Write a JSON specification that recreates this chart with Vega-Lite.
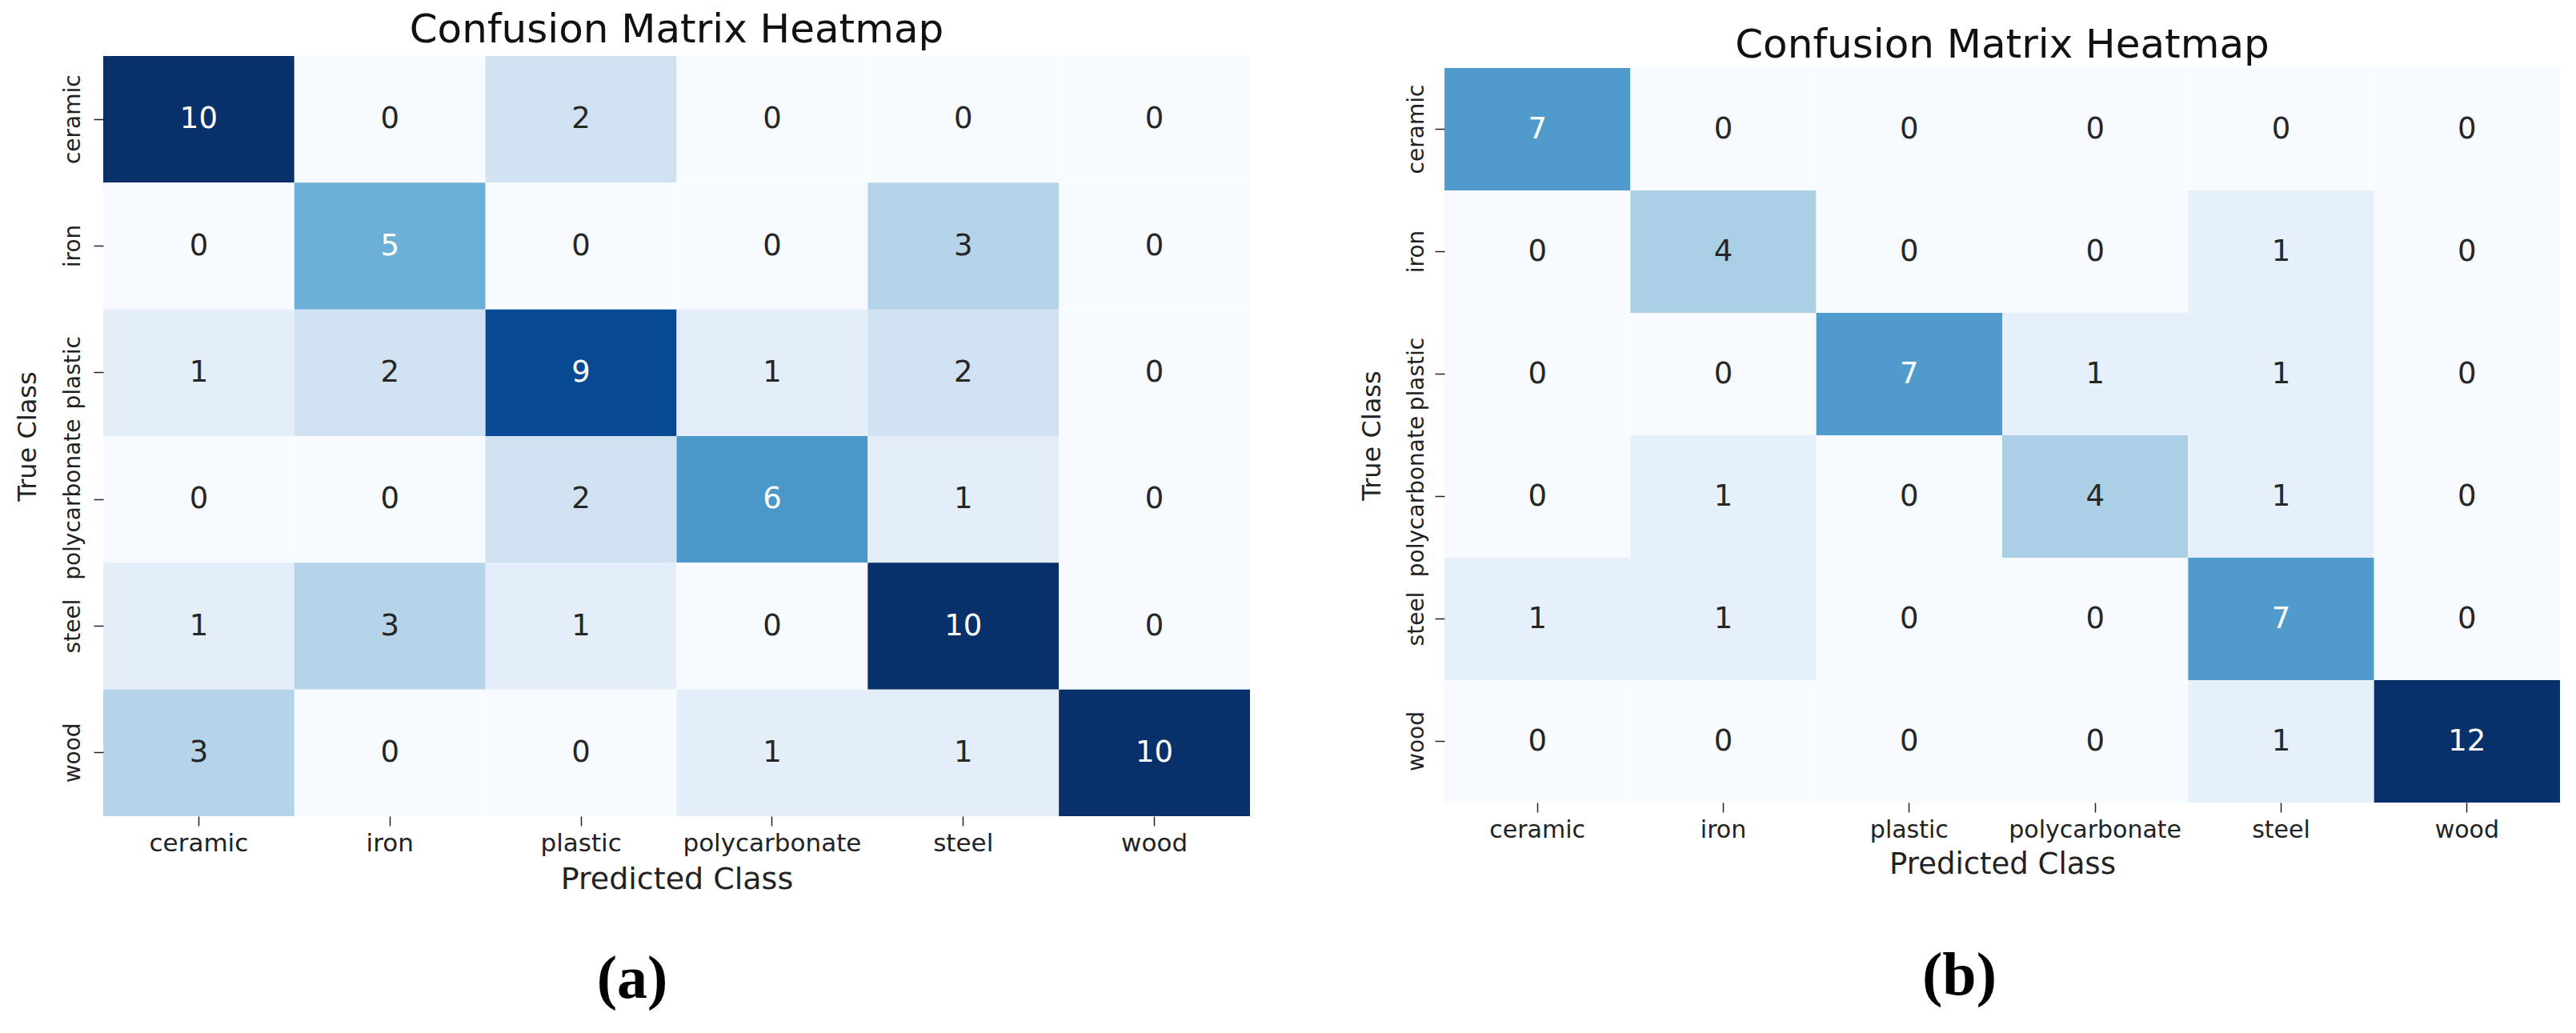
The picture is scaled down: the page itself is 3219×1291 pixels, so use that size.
{
  "$schema": "https://vega.github.io/schema/vega-lite/v6.json",
  "background": "white",
  "padding": {"left": 18, "top": 13, "right": 10, "bottom": 10},
  "config": {
    "font": "DejaVu Sans",
    "view": {"stroke": null},
    "axis": {"grid": false, "domain": false, "tickColor": "#222", "tickSize": 12, "tickWidth": 1.5, "labelColor": "#222", "titleColor": "#222", "labelFont": "DejaVu Sans", "titleFont": "DejaVu Sans", "titleFontWeight": "normal", "labelLimit": 0, "labelOverlap": false},
    "title": {"font": "DejaVu Sans", "fontWeight": "normal", "color": "#111"}
  },
  "datasets": {
    "a": [
      {"t": "ceramic", "p": "ceramic", "v": 10}, {"t": "ceramic", "p": "iron", "v": 0}, {"t": "ceramic", "p": "plastic", "v": 2}, {"t": "ceramic", "p": "polycarbonate", "v": 0}, {"t": "ceramic", "p": "steel", "v": 0}, {"t": "ceramic", "p": "wood", "v": 0},
      {"t": "iron", "p": "ceramic", "v": 0}, {"t": "iron", "p": "iron", "v": 5}, {"t": "iron", "p": "plastic", "v": 0}, {"t": "iron", "p": "polycarbonate", "v": 0}, {"t": "iron", "p": "steel", "v": 3}, {"t": "iron", "p": "wood", "v": 0},
      {"t": "plastic", "p": "ceramic", "v": 1}, {"t": "plastic", "p": "iron", "v": 2}, {"t": "plastic", "p": "plastic", "v": 9}, {"t": "plastic", "p": "polycarbonate", "v": 1}, {"t": "plastic", "p": "steel", "v": 2}, {"t": "plastic", "p": "wood", "v": 0},
      {"t": "polycarbonate", "p": "ceramic", "v": 0}, {"t": "polycarbonate", "p": "iron", "v": 0}, {"t": "polycarbonate", "p": "plastic", "v": 2}, {"t": "polycarbonate", "p": "polycarbonate", "v": 6}, {"t": "polycarbonate", "p": "steel", "v": 1}, {"t": "polycarbonate", "p": "wood", "v": 0},
      {"t": "steel", "p": "ceramic", "v": 1}, {"t": "steel", "p": "iron", "v": 3}, {"t": "steel", "p": "plastic", "v": 1}, {"t": "steel", "p": "polycarbonate", "v": 0}, {"t": "steel", "p": "steel", "v": 10}, {"t": "steel", "p": "wood", "v": 0},
      {"t": "wood", "p": "ceramic", "v": 3}, {"t": "wood", "p": "iron", "v": 0}, {"t": "wood", "p": "plastic", "v": 0}, {"t": "wood", "p": "polycarbonate", "v": 1}, {"t": "wood", "p": "steel", "v": 1}, {"t": "wood", "p": "wood", "v": 10}
    ],
    "b": [
      {"t": "ceramic", "p": "ceramic", "v": 7}, {"t": "ceramic", "p": "iron", "v": 0}, {"t": "ceramic", "p": "plastic", "v": 0}, {"t": "ceramic", "p": "polycarbonate", "v": 0}, {"t": "ceramic", "p": "steel", "v": 0}, {"t": "ceramic", "p": "wood", "v": 0},
      {"t": "iron", "p": "ceramic", "v": 0}, {"t": "iron", "p": "iron", "v": 4}, {"t": "iron", "p": "plastic", "v": 0}, {"t": "iron", "p": "polycarbonate", "v": 0}, {"t": "iron", "p": "steel", "v": 1}, {"t": "iron", "p": "wood", "v": 0},
      {"t": "plastic", "p": "ceramic", "v": 0}, {"t": "plastic", "p": "iron", "v": 0}, {"t": "plastic", "p": "plastic", "v": 7}, {"t": "plastic", "p": "polycarbonate", "v": 1}, {"t": "plastic", "p": "steel", "v": 1}, {"t": "plastic", "p": "wood", "v": 0},
      {"t": "polycarbonate", "p": "ceramic", "v": 0}, {"t": "polycarbonate", "p": "iron", "v": 1}, {"t": "polycarbonate", "p": "plastic", "v": 0}, {"t": "polycarbonate", "p": "polycarbonate", "v": 4}, {"t": "polycarbonate", "p": "steel", "v": 1}, {"t": "polycarbonate", "p": "wood", "v": 0},
      {"t": "steel", "p": "ceramic", "v": 1}, {"t": "steel", "p": "iron", "v": 1}, {"t": "steel", "p": "plastic", "v": 0}, {"t": "steel", "p": "polycarbonate", "v": 0}, {"t": "steel", "p": "steel", "v": 7}, {"t": "steel", "p": "wood", "v": 0},
      {"t": "wood", "p": "ceramic", "v": 0}, {"t": "wood", "p": "iron", "v": 0}, {"t": "wood", "p": "plastic", "v": 0}, {"t": "wood", "p": "polycarbonate", "v": 0}, {"t": "wood", "p": "steel", "v": 1}, {"t": "wood", "p": "wood", "v": 12}
    ]
  },
  "spacing": 136,
  "resolve": {"scale": {"color": "independent", "x": "independent", "y": "independent"}},
  "hconcat": [
    {
      "title": {"text": "(a)", "orient": "bottom", "anchor": "middle", "font": "Liberation Serif", "fontWeight": "bold", "fontSize": 76, "offset": 69, "color": "#000"},
      "vconcat": [
        {
          "width": 1433,
          "height": 950,
          "data": {"name": "a"},
          "title": {"text": "Confusion Matrix Heatmap", "fontSize": 50, "frame": "group", "anchor": "middle", "offset": 7},
          "encoding": {
            "x": {"field": "p", "type": "nominal", "sort": ["ceramic", "iron", "plastic", "polycarbonate", "steel", "wood"], "scale": {"paddingInner": 0, "paddingOuter": 0},
              "axis": {"title": "Predicted Class", "labelAngle": 0, "labelFontSize": 31, "titleFontSize": 38, "labelPadding": 7, "titlePadding": 11}},
            "y": {"field": "t", "type": "nominal", "sort": ["ceramic", "iron", "plastic", "polycarbonate", "steel", "wood"], "scale": {"paddingInner": 0, "paddingOuter": 0},
              "axis": {"title": "True Class", "labelAngle": -90, "labelAlign": "center", "labelBaseline": "bottom", "labelFontSize": 28, "titleFontSize": 32, "labelPadding": 12, "titlePadding": 26}}
          },
          "layer": [
            {
              "mark": {"type": "rect"},
              "encoding": {
                "color": {"field": "v", "type": "quantitative", "legend": null,
                  "scale": {"domain": [0, 1.25, 2.5, 3.75, 5, 6.25, 7.5, 8.75, 10], "range": ["#f7fbff", "#deebf7", "#c6dbef", "#9ecae1", "#6baed6", "#4292c6", "#2171b5", "#08519c", "#08306b"], "interpolate": "rgb"}}
              }
            },
            {
              "mark": {"type": "text", "fontSize": 37, "font": "DejaVu Sans", "baseline": "middle", "align": "center"},
              "encoding": {
                "text": {"field": "v", "type": "quantitative"},
                "color": {"condition": {"test": "datum.v >= 4", "value": "white"}, "value": "#262626"}
              }
            }
          ]
        }
      ]
    },
    {
      "title": {"text": "(b)", "orient": "bottom", "anchor": "middle", "font": "Liberation Serif", "fontWeight": "bold", "fontSize": 76, "offset": 85, "color": "#000"},
      "vconcat": [
        {
          "width": 1394,
          "height": 933,
          "data": {"name": "b"},
          "title": {"text": "Confusion Matrix Heatmap", "fontSize": 50, "frame": "group", "anchor": "middle", "offset": -12},
          "encoding": {
            "x": {"field": "p", "type": "nominal", "sort": ["ceramic", "iron", "plastic", "polycarbonate", "steel", "wood"], "scale": {"paddingInner": 0, "paddingOuter": 0},
              "axis": {"title": "Predicted Class", "labelAngle": 0, "labelFontSize": 30, "titleFontSize": 37, "labelPadding": 7, "titlePadding": 10}},
            "y": {"field": "t", "type": "nominal", "sort": ["ceramic", "iron", "plastic", "polycarbonate", "steel", "wood"], "scale": {"paddingInner": 0, "paddingOuter": 0, "range": [15, 933]},
              "axis": {"title": "True Class", "labelAngle": -90, "labelAlign": "center", "labelBaseline": "bottom", "labelFontSize": 28, "titleFontSize": 32, "labelPadding": 9, "titlePadding": 25}}
          },
          "layer": [
            {
              "mark": {"type": "rect"},
              "encoding": {
                "color": {"field": "v", "type": "quantitative", "legend": null,
                  "scale": {"domain": [0, 1.5, 3, 4.5, 6, 7.5, 9, 10.5, 12], "range": ["#f7fbff", "#deebf7", "#c6dbef", "#9ecae1", "#6baed6", "#4292c6", "#2171b5", "#08519c", "#08306b"], "interpolate": "rgb"}}
              }
            },
            {
              "mark": {"type": "text", "fontSize": 37, "font": "DejaVu Sans", "baseline": "middle", "align": "center"},
              "encoding": {
                "text": {"field": "v", "type": "quantitative"},
                "color": {"condition": {"test": "datum.v >= 5", "value": "white"}, "value": "#262626"}
              }
            }
          ]
        }
      ]
    }
  ]
}
